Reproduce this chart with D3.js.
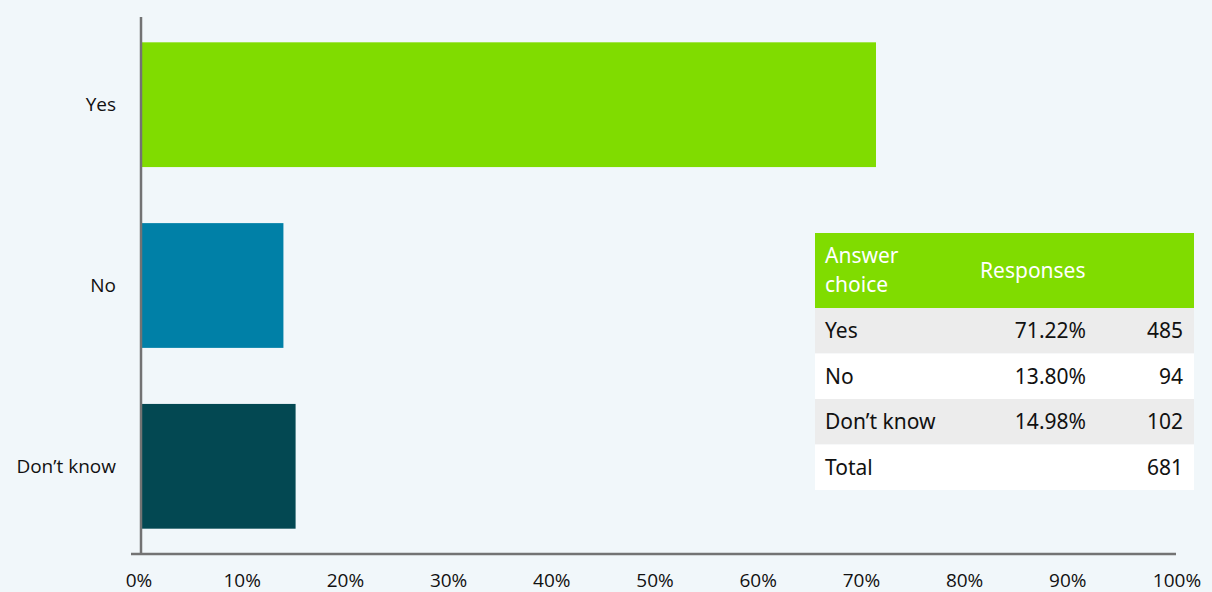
<!DOCTYPE html>
<meta charset="utf-8">
<style>
body { margin: 0; background: #f1f7fa; }
svg { display: block; }
.axis text { font-family: "Open Sans", sans-serif; font-size: 19px; fill: #111; }
.tbl text { font-family: "Noto Sans", sans-serif; font-size: 21px; fill: #111; }
.tbl .head { fill: #fff; }
</style>
<svg width="1212" height="592"></svg>
<script src="https://cdn.jsdelivr.net/npm/d3@7"></script>
<script>

var answers = ["Yes", "No", "Don’t know"];
var shares = [71.22, 13.80, 14.98];
var counts = [485, 94, 102];
var total = 681;
var barColors = ["#80dc00", "#0080a7", "#034852"];
var ticks = [0, 10, 20, 30, 40, 50, 60, 70, 80, 90, 100];

var svg = d3.select("svg");

var x = d3.scaleLinear().domain([0, 100]).range([141, 1173]);
var y = d3.scaleBand().domain(answers).range([17, 554]).paddingInner(0.31).paddingOuter(0.14);

svg.append("g")
    .selectAll("rect")
    .data(answers)
    .enter().append("rect")
    .attr("x", x(0))
    .attr("y", function(d) { return y(d); })
    .attr("width", function(d, i) { return x(shares[i]) - x(0); })
    .attr("height", y.bandwidth())
    .attr("fill", function(d, i) { return barColors[i]; });

// axes
svg.append("line")
    .attr("x1", 141).attr("x2", 141).attr("y1", 17).attr("y2", 554)
    .attr("stroke", "#737373").attr("stroke-width", 2.5);
svg.append("line")
    .attr("x1", 131).attr("x2", 1176).attr("y1", 554).attr("y2", 554)
    .attr("stroke", "#737373").attr("stroke-width", 2.5);

svg.append("g")
    .attr("class", "axis")
    .selectAll("text")
    .data(ticks)
    .enter().append("text")
    .attr("x", function(d) { return x(d) + (d === 100 ? 4 : -2); })
    .attr("y", 587)
    .attr("text-anchor", "middle")
    .text(function(d) { return d + "%"; });

svg.append("g")
    .attr("class", "axis")
    .selectAll("text")
    .data(answers)
    .enter().append("text")
    .attr("x", 116)
    .attr("y", function(d) { return y(d) + y.bandwidth() / 2; })
    .attr("dy", "0.35em")
    .attr("text-anchor", "end")
    .text(function(d) { return d; });

// table
var tbl = svg.append("g").attr("class", "tbl");
var tx = 815, tw = 379;
tbl.append("rect").attr("x", tx).attr("y", 233).attr("width", tw).attr("height", 75).attr("fill", "#80dc00");
tbl.append("text").attr("class", "head").attr("x", 825).attr("y", 263).text("Answer");
tbl.append("text").attr("class", "head").attr("x", 825).attr("y", 292).text("choice");
tbl.append("text").attr("class", "head").attr("x", 980).attr("y", 278).text("Responses");

var rows = answers.map(function(d, i) {
  return { label: d, pct: shares[i].toFixed(2) + "%", n: counts[i] };
});
rows.push({ label: "Total", pct: "", n: total });

var rowH = 45.5;
var rg = tbl.selectAll("g.row")
    .data(rows)
    .enter().append("g")
    .attr("class", "row")
    .attr("transform", function(d, i) { return "translate(0," + (308 + i * rowH) + ")"; });
rg.append("rect")
    .attr("x", tx).attr("width", tw).attr("height", rowH)
    .attr("fill", function(d, i) { return i % 2 === 0 ? "#ececec" : "#ffffff"; });
rg.append("text").attr("x", 825).attr("y", 30).text(function(d) { return d.label; });
rg.append("text").attr("x", 1086).attr("y", 30).attr("text-anchor", "end").text(function(d) { return d.pct; });
rg.append("text").attr("x", 1183).attr("y", 30).attr("text-anchor", "end").text(function(d) { return d.n; });

</script>
